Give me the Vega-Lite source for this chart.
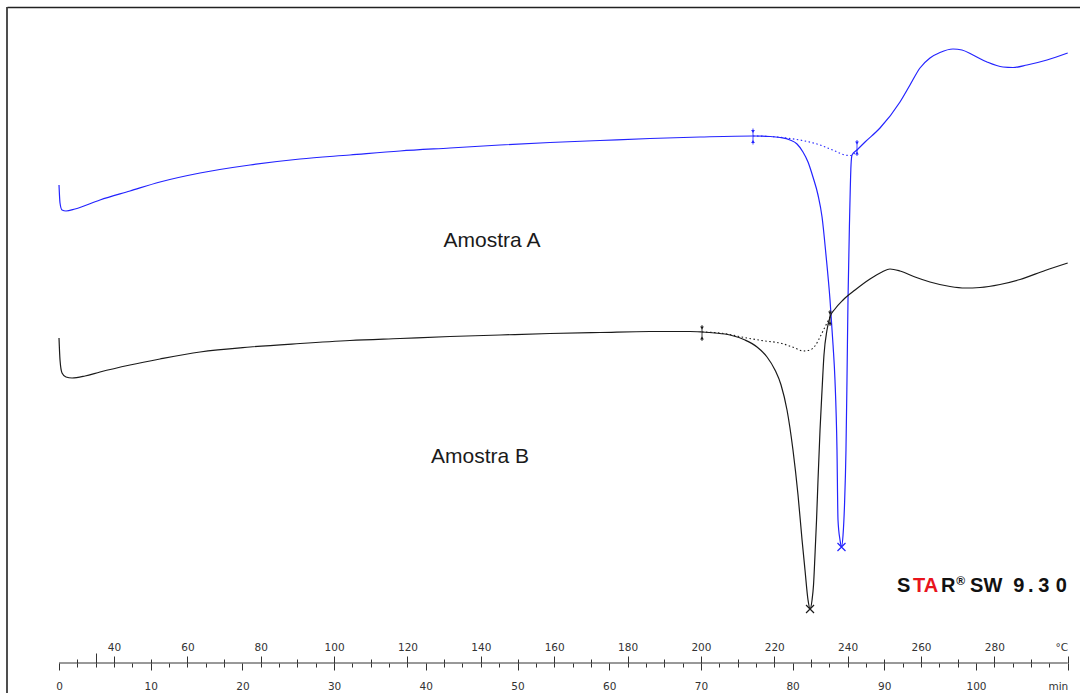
{
  "$schema": "https://vega.github.io/schema/vega-lite/v6.json",
  "width": 1073,
  "height": 686,
  "autosize": {"type": "none"},
  "padding": {"left": 7, "top": 7, "right": 0, "bottom": 0},
  "background": "white",
  "config": {"view": {"stroke": null}},
  "data": {"values": [{}]},
  "datasets": {
    "curves": [
      {"sample": "A", "t": 0, "hf": 4.30}, {"sample": "A", "t": 0.11, "hf": 3.94}, {"sample": "A", "t": 0.33, "hf": 3.80}, {"sample": "A", "t": 0.76, "hf": 3.78}, {"sample": "A", "t": 1.75, "hf": 3.82}, {"sample": "A", "t": 4.47, "hf": 4.00}, {"sample": "A", "t": 7.74, "hf": 4.18}, {"sample": "A", "t": 11.01, "hf": 4.36}, {"sample": "A", "t": 15.38, "hf": 4.54}, {"sample": "A", "t": 20.83, "hf": 4.70}, {"sample": "A", "t": 26.28, "hf": 4.82}, {"sample": "A", "t": 31.73, "hf": 4.90}, {"sample": "A", "t": 37.19, "hf": 4.98}, {"sample": "A", "t": 42.64, "hf": 5.04}, {"sample": "A", "t": 48.09, "hf": 5.10}, {"sample": "A", "t": 53.54, "hf": 5.15}, {"sample": "A", "t": 59.00, "hf": 5.19}, {"sample": "A", "t": 64.45, "hf": 5.23}, {"sample": "A", "t": 69.90, "hf": 5.26}, {"sample": "A", "t": 75.68, "hf": 5.28}, {"sample": "A", "t": 77.54, "hf": 5.27}, {"sample": "A", "t": 78.63, "hf": 5.25}, {"sample": "A", "t": 79.72, "hf": 5.20}, {"sample": "A", "t": 80.48, "hf": 5.12}, {"sample": "A", "t": 81.13, "hf": 4.96}, {"sample": "A", "t": 81.68, "hf": 4.76}, {"sample": "A", "t": 82.22, "hf": 4.46}, {"sample": "A", "t": 82.77, "hf": 4.10}, {"sample": "A", "t": 83.21, "hf": 3.66}, {"sample": "A", "t": 83.64, "hf": 2.90}, {"sample": "A", "t": 84.08, "hf": 2.00}, {"sample": "A", "t": 84.41, "hf": 1.10}, {"sample": "A", "t": 84.62, "hf": 0.40}, {"sample": "A", "t": 84.84, "hf": -1.00}, {"sample": "A", "t": 84.95, "hf": -2.40}, {"sample": "A", "t": 85.17, "hf": -2.80}, {"sample": "A", "t": 85.33, "hf": -2.94}, {"sample": "A", "t": 85.50, "hf": -2.70}, {"sample": "A", "t": 85.66, "hf": -2.10}, {"sample": "A", "t": 85.82, "hf": -1.00}, {"sample": "A", "t": 85.93, "hf": 0.40}, {"sample": "A", "t": 86.04, "hf": 2.00}, {"sample": "A", "t": 86.21, "hf": 3.60}, {"sample": "A", "t": 86.37, "hf": 4.70}, {"sample": "A", "t": 86.48, "hf": 4.90}, {"sample": "A", "t": 87.02, "hf": 5.00}, {"sample": "A", "t": 87.90, "hf": 5.16}, {"sample": "A", "t": 89.53, "hf": 5.44}, {"sample": "A", "t": 91.71, "hf": 5.96}, {"sample": "A", "t": 92.80, "hf": 6.30}, {"sample": "A", "t": 93.89, "hf": 6.64}, {"sample": "A", "t": 94.98, "hf": 6.84}, {"sample": "A", "t": 96.07, "hf": 6.95}, {"sample": "A", "t": 97.49, "hf": 7.02}, {"sample": "A", "t": 98.47, "hf": 7.00}, {"sample": "A", "t": 99.67, "hf": 6.90}, {"sample": "A", "t": 101.20, "hf": 6.76}, {"sample": "A", "t": 102.94, "hf": 6.66}, {"sample": "A", "t": 104.04, "hf": 6.65}, {"sample": "A", "t": 105.56, "hf": 6.70}, {"sample": "A", "t": 107.74, "hf": 6.80}, {"sample": "A", "t": 110.0, "hf": 6.94},
      {"sample": "B", "t": 0, "hf": 1.24}, {"sample": "B", "t": 0.11, "hf": 0.80}, {"sample": "B", "t": 0.33, "hf": 0.54}, {"sample": "B", "t": 0.76, "hf": 0.46}, {"sample": "B", "t": 1.42, "hf": 0.44}, {"sample": "B", "t": 2.84, "hf": 0.48}, {"sample": "B", "t": 4.47, "hf": 0.56}, {"sample": "B", "t": 7.74, "hf": 0.70}, {"sample": "B", "t": 11.01, "hf": 0.82}, {"sample": "B", "t": 15.38, "hf": 0.96}, {"sample": "B", "t": 20.83, "hf": 1.06}, {"sample": "B", "t": 26.28, "hf": 1.13}, {"sample": "B", "t": 31.73, "hf": 1.19}, {"sample": "B", "t": 37.19, "hf": 1.23}, {"sample": "B", "t": 42.64, "hf": 1.27}, {"sample": "B", "t": 48.09, "hf": 1.30}, {"sample": "B", "t": 53.54, "hf": 1.33}, {"sample": "B", "t": 59.00, "hf": 1.35}, {"sample": "B", "t": 64.45, "hf": 1.37}, {"sample": "B", "t": 68.81, "hf": 1.37}, {"sample": "B", "t": 70.12, "hf": 1.36}, {"sample": "B", "t": 71.54, "hf": 1.34}, {"sample": "B", "t": 73.17, "hf": 1.30}, {"sample": "B", "t": 74.81, "hf": 1.20}, {"sample": "B", "t": 76.12, "hf": 1.06}, {"sample": "B", "t": 77.21, "hf": 0.86}, {"sample": "B", "t": 78.08, "hf": 0.60}, {"sample": "B", "t": 78.74, "hf": 0.30}, {"sample": "B", "t": 79.39, "hf": -0.20}, {"sample": "B", "t": 80.04, "hf": -1.00}, {"sample": "B", "t": 80.59, "hf": -1.90}, {"sample": "B", "t": 81.03, "hf": -2.80}, {"sample": "B", "t": 81.35, "hf": -3.40}, {"sample": "B", "t": 81.68, "hf": -4.00}, {"sample": "B", "t": 81.90, "hf": -4.18}, {"sample": "B", "t": 82.12, "hf": -4.00}, {"sample": "B", "t": 82.28, "hf": -3.70}, {"sample": "B", "t": 82.44, "hf": -3.10}, {"sample": "B", "t": 82.61, "hf": -2.40}, {"sample": "B", "t": 82.77, "hf": -1.60}, {"sample": "B", "t": 82.99, "hf": -0.60}, {"sample": "B", "t": 83.21, "hf": 0.20}, {"sample": "B", "t": 83.42, "hf": 0.90}, {"sample": "B", "t": 83.75, "hf": 1.40}, {"sample": "B", "t": 84.08, "hf": 1.66}, {"sample": "B", "t": 84.62, "hf": 1.82}, {"sample": "B", "t": 85.50, "hf": 2.00}, {"sample": "B", "t": 86.81, "hf": 2.20}, {"sample": "B", "t": 88.44, "hf": 2.42}, {"sample": "B", "t": 89.75, "hf": 2.56}, {"sample": "B", "t": 90.62, "hf": 2.62}, {"sample": "B", "t": 91.71, "hf": 2.58}, {"sample": "B", "t": 93.35, "hf": 2.46}, {"sample": "B", "t": 94.98, "hf": 2.36}, {"sample": "B", "t": 97.17, "hf": 2.27}, {"sample": "B", "t": 98.80, "hf": 2.24}, {"sample": "B", "t": 100.44, "hf": 2.25}, {"sample": "B", "t": 102.62, "hf": 2.31}, {"sample": "B", "t": 104.80, "hf": 2.41}, {"sample": "B", "t": 107.53, "hf": 2.59}, {"sample": "B", "t": 110.0, "hf": 2.74}
    ],
    "baselines": [
      {"sample": "A", "t": 75.68, "hf": 5.28}, {"sample": "A", "t": 77.54, "hf": 5.27}, {"sample": "A", "t": 79.72, "hf": 5.23}, {"sample": "A", "t": 81.35, "hf": 5.18}, {"sample": "A", "t": 82.99, "hf": 5.10}, {"sample": "A", "t": 84.62, "hf": 4.98}, {"sample": "A", "t": 85.71, "hf": 4.90}, {"sample": "A", "t": 86.37, "hf": 4.89}, {"sample": "A", "t": 87.02, "hf": 5.00},
      {"sample": "B", "t": 70.12, "hf": 1.36}, {"sample": "B", "t": 72.08, "hf": 1.34}, {"sample": "B", "t": 75.03, "hf": 1.24}, {"sample": "B", "t": 76.99, "hf": 1.18}, {"sample": "B", "t": 78.63, "hf": 1.14}, {"sample": "B", "t": 80.26, "hf": 1.04}, {"sample": "B", "t": 81.13, "hf": 0.98}, {"sample": "B", "t": 81.90, "hf": 1.00}, {"sample": "B", "t": 82.44, "hf": 1.08}, {"sample": "B", "t": 82.99, "hf": 1.26}, {"sample": "B", "t": 83.53, "hf": 1.46}, {"sample": "B", "t": 84.08, "hf": 1.66}
    ],
    "limits": [
      {"sample": "A", "t": 75.68, "hf": 5.27}, {"sample": "A", "t": 87.02, "hf": 5.04},
      {"sample": "B", "t": 70.12, "hf": 1.34}, {"sample": "B", "t": 84.08, "hf": 1.64}
    ],
    "peaks": [
      {"sample": "A", "t": 85.33, "hf": -2.94},
      {"sample": "B", "t": 81.90, "hf": -4.18}
    ],
    "labels": [
      {"text": "Amostra A", "t": 47.22, "hf": 3.18},
      {"text": "Amostra B", "t": 45.91, "hf": -1.14}
    ]
  },
  "resolve": {"axis": {"x": "independent"}},
  "layer": [
    {
      "mark": {"type": "rule", "color": "#222222", "strokeWidth": 1.6},
      "encoding": {
        "x": {"datum": -5.671, "type": "quantitative", "scale": {"domain": [-5.671, 111.34], "nice": false, "zero": false}, "axis": null},
        "y": {"datum": -5.86, "type": "quantitative", "scale": {"domain": [-5.86, 7.86], "nice": false, "zero": false}, "axis": null},
        "y2": {"datum": 7.86}
      }
    },
    {
      "data": {"name": "curves"},
      "mark": {"type": "line", "strokeWidth": 1.2, "interpolate": "monotone"},
      "encoding": {
        "x": {"field": "t", "type": "quantitative", "scale": {"domain": [-5.671, 111.34], "nice": false, "zero": false},
              "axis": {"orient": "top", "offset": 0, "domain": true, "domainColor": "#222222", "domainWidth": 1.6, "ticks": false, "labels": false, "grid": false, "title": null}},
        "y": {"field": "hf", "type": "quantitative", "scale": {"domain": [-5.86, 7.86], "nice": false, "zero": false}, "axis": null},
        "color": {"field": "sample", "type": "nominal", "scale": {"domain": ["A", "B"], "range": ["#2323ff", "#1a1a1a"]}, "legend": null}
      }
    },
    {
      "data": {"name": "baselines"},
      "mark": {"type": "line", "strokeWidth": 1.1, "strokeDash": [1.5, 2.5], "interpolate": "monotone"},
      "encoding": {
        "x": {"field": "t", "type": "quantitative", "scale": {"domain": [-5.671, 111.34], "nice": false, "zero": false},
              "axis": {"orient": "bottom", "offset": -30, "domain": false, "grid": false, "title": null,
                       "values": [0,2,4,6,8,10,12,14,16,18,20,22,24,26,28,30,32,34,36,38,40,42,44,46,48,50,52,54,56,58,60,62,64,66,68,70,72,74,76,78,80,82,84,86,88,90,92,94,96,98,100,102,104,106,108,110],
                       "tickSize": {"condition": {"test": "datum.value % 10 === 0", "value": 7}, "value": 4},
                       "tickColor": "#333333", "tickWidth": 1,
                       "labelExpr": "datum.value === 110 ? 'min' : (datum.value % 10 === 0 ? format(datum.value, 'd') : '')",
                       "labelAlign": {"condition": {"test": "datum.value === 110", "value": "right"}, "value": "center"},
                       "labelPadding": 11, "labelFont": "DejaVu Sans", "labelFontSize": 10.5, "labelColor": "#333333",
                       "labelOverlap": false, "labelFlush": false, "labelBound": false}},
        "y": {"field": "hf", "type": "quantitative", "scale": {"domain": [-5.86, 7.86], "nice": false, "zero": false}, "axis": null},
        "color": {"field": "sample", "type": "nominal", "scale": {"domain": ["A", "B"], "range": ["#2323ff", "#1a1a1a"]}, "legend": null}
      }
    },
    {
      "mark": {"type": "rule", "color": "#333333", "strokeWidth": 1},
      "encoding": {
        "x": {"datum": 0, "type": "quantitative", "scale": {"domain": [-5.671, 111.34], "nice": false, "zero": false},
              "axis": {"orient": "top", "offset": -656, "domain": false, "grid": false, "title": null,
                       "values": [2,4,6,10,14,18,22,26,30,34,38,42,46,50,54,58,62,66,70,74,78,82,86,90,94,98,102,106,110],
                       "tickSize": {"condition": [{"test": "datum.value === 4", "value": 10}, {"test": "(25 + 2.5 * datum.value) % 20 === 0", "value": 7}], "value": 4},
                       "tickColor": "#333333", "tickWidth": 1,
                       "labelExpr": "(25 + 2.5 * datum.value) === 300 ? '°C' : ((25 + 2.5 * datum.value) % 20 === 0 ? format(25 + 2.5 * datum.value, 'd') : '')",
                       "labelAlign": {"condition": {"test": "datum.value === 110", "value": "right"}, "value": "center"},
                       "labelPadding": 4, "labelFont": "DejaVu Sans", "labelFontSize": 10.5, "labelColor": "#333333",
                       "labelOverlap": false, "labelFlush": false, "labelBound": false}},
        "x2": {"datum": 110},
        "y": {"datum": -5.26, "type": "quantitative", "scale": {"domain": [-5.86, 7.86], "nice": false, "zero": false}, "axis": null}
      }
    },
    {
      "data": {"name": "limits"},
      "mark": {"type": "tick", "orient": "vertical", "size": 16, "thickness": 1.2},
      "encoding": {
        "x": {"field": "t", "type": "quantitative", "scale": {"domain": [-5.671, 111.34], "nice": false, "zero": false}, "axis": null},
        "y": {"field": "hf", "type": "quantitative", "scale": {"domain": [-5.86, 7.86], "nice": false, "zero": false}, "axis": null},
        "color": {"field": "sample", "type": "nominal", "scale": {"domain": ["A", "B"], "range": ["#2323ff", "#1a1a1a"]}, "legend": null}
      }
    },
    {
      "data": {"name": "limits"},
      "mark": {"type": "point", "shape": "triangle-down", "size": 14, "filled": true, "yOffset": -5, "opacity": 1},
      "encoding": {
        "x": {"field": "t", "type": "quantitative", "scale": {"domain": [-5.671, 111.34], "nice": false, "zero": false}, "axis": null},
        "y": {"field": "hf", "type": "quantitative", "scale": {"domain": [-5.86, 7.86], "nice": false, "zero": false}, "axis": null},
        "color": {"field": "sample", "type": "nominal", "scale": {"domain": ["A", "B"], "range": ["#2323ff", "#1a1a1a"]}, "legend": null}
      }
    },
    {
      "data": {"name": "limits"},
      "mark": {"type": "point", "shape": "triangle-up", "size": 14, "filled": true, "yOffset": 5, "opacity": 1},
      "encoding": {
        "x": {"field": "t", "type": "quantitative", "scale": {"domain": [-5.671, 111.34], "nice": false, "zero": false}, "axis": null},
        "y": {"field": "hf", "type": "quantitative", "scale": {"domain": [-5.86, 7.86], "nice": false, "zero": false}, "axis": null},
        "color": {"field": "sample", "type": "nominal", "scale": {"domain": ["A", "B"], "range": ["#2323ff", "#1a1a1a"]}, "legend": null}
      }
    },
    {
      "data": {"name": "peaks"},
      "mark": {"type": "point", "shape": "M-1,-1L1,1M-1,1L1,-1", "size": 64, "filled": false, "strokeWidth": 1.2, "opacity": 1},
      "encoding": {
        "x": {"field": "t", "type": "quantitative", "scale": {"domain": [-5.671, 111.34], "nice": false, "zero": false}, "axis": null},
        "y": {"field": "hf", "type": "quantitative", "scale": {"domain": [-5.86, 7.86], "nice": false, "zero": false}, "axis": null},
        "color": {"field": "sample", "type": "nominal", "scale": {"domain": ["A", "B"], "range": ["#2323ff", "#1a1a1a"]}, "legend": null}
      }
    },
    {
      "data": {"name": "labels"},
      "mark": {"type": "text", "font": "Liberation Sans", "fontSize": 21, "color": "#1a1a1a", "align": "center", "baseline": "middle"},
      "encoding": {
        "x": {"field": "t", "type": "quantitative", "scale": {"domain": [-5.671, 111.34], "nice": false, "zero": false}, "axis": null},
        "y": {"field": "hf", "type": "quantitative", "scale": {"domain": [-5.86, 7.86], "nice": false, "zero": false}, "axis": null},
        "text": {"field": "text", "type": "nominal"}
      }
    },
    {
      "mark": {"type": "text", "text": "S", "font": "Liberation Sans", "fontWeight": "bold", "fontSize": 20, "align": "center", "baseline": "alphabetic", "dx": -164, "color": "#111111"},
      "encoding": {"x": {"datum": 110, "type": "quantitative", "scale": {"domain": [-5.671, 111.34], "nice": false, "zero": false}, "axis": null},
                   "y": {"datum": -3.84, "type": "quantitative", "scale": {"domain": [-5.86, 7.86], "nice": false, "zero": false}, "axis": null}}
    },
    {
      "mark": {"type": "text", "text": "TA", "font": "Liberation Sans", "fontWeight": "bold", "fontSize": 20, "align": "center", "baseline": "alphabetic", "dx": -142, "color": "#e8141c"},
      "encoding": {"x": {"datum": 110, "type": "quantitative", "scale": {"domain": [-5.671, 111.34], "nice": false, "zero": false}, "axis": null},
                   "y": {"datum": -3.84, "type": "quantitative", "scale": {"domain": [-5.86, 7.86], "nice": false, "zero": false}, "axis": null}}
    },
    {
      "mark": {"type": "text", "text": "R", "font": "Liberation Sans", "fontWeight": "bold", "fontSize": 20, "align": "center", "baseline": "alphabetic", "dx": -119.5, "color": "#111111"},
      "encoding": {"x": {"datum": 110, "type": "quantitative", "scale": {"domain": [-5.671, 111.34], "nice": false, "zero": false}, "axis": null},
                   "y": {"datum": -3.84, "type": "quantitative", "scale": {"domain": [-5.86, 7.86], "nice": false, "zero": false}, "axis": null}}
    },
    {
      "mark": {"type": "text", "text": "®", "font": "Liberation Sans", "fontWeight": "bold", "fontSize": 12, "align": "center", "baseline": "alphabetic", "dx": -107, "dy": -7, "color": "#111111"},
      "encoding": {"x": {"datum": 110, "type": "quantitative", "scale": {"domain": [-5.671, 111.34], "nice": false, "zero": false}, "axis": null},
                   "y": {"datum": -3.84, "type": "quantitative", "scale": {"domain": [-5.86, 7.86], "nice": false, "zero": false}, "axis": null}}
    },
    {
      "mark": {"type": "text", "text": "SW", "font": "Liberation Sans", "fontWeight": "bold", "fontSize": 20, "align": "center", "baseline": "alphabetic", "dx": -81.5, "color": "#111111"},
      "encoding": {"x": {"datum": 110, "type": "quantitative", "scale": {"domain": [-5.671, 111.34], "nice": false, "zero": false}, "axis": null},
                   "y": {"datum": -3.84, "type": "quantitative", "scale": {"domain": [-5.86, 7.86], "nice": false, "zero": false}, "axis": null}}
    },
    {
      "mark": {"type": "text", "text": "9", "font": "Liberation Sans", "fontWeight": "bold", "fontSize": 20, "align": "center", "baseline": "alphabetic", "dx": -49, "color": "#111111"},
      "encoding": {"x": {"datum": 110, "type": "quantitative", "scale": {"domain": [-5.671, 111.34], "nice": false, "zero": false}, "axis": null},
                   "y": {"datum": -3.84, "type": "quantitative", "scale": {"domain": [-5.86, 7.86], "nice": false, "zero": false}, "axis": null}}
    },
    {
      "mark": {"type": "text", "text": ".", "font": "Liberation Sans", "fontWeight": "bold", "fontSize": 20, "align": "center", "baseline": "alphabetic", "dx": -37, "color": "#111111"},
      "encoding": {"x": {"datum": 110, "type": "quantitative", "scale": {"domain": [-5.671, 111.34], "nice": false, "zero": false}, "axis": null},
                   "y": {"datum": -3.84, "type": "quantitative", "scale": {"domain": [-5.86, 7.86], "nice": false, "zero": false}, "axis": null}}
    },
    {
      "mark": {"type": "text", "text": "3", "font": "Liberation Sans", "fontWeight": "bold", "fontSize": 20, "align": "center", "baseline": "alphabetic", "dx": -24, "color": "#111111"},
      "encoding": {"x": {"datum": 110, "type": "quantitative", "scale": {"domain": [-5.671, 111.34], "nice": false, "zero": false}, "axis": null},
                   "y": {"datum": -3.84, "type": "quantitative", "scale": {"domain": [-5.86, 7.86], "nice": false, "zero": false}, "axis": null}}
    },
    {
      "mark": {"type": "text", "text": "0", "font": "Liberation Sans", "fontWeight": "bold", "fontSize": 20, "align": "center", "baseline": "alphabetic", "dx": -6.5, "color": "#111111"},
      "encoding": {"x": {"datum": 110, "type": "quantitative", "scale": {"domain": [-5.671, 111.34], "nice": false, "zero": false}, "axis": null},
                   "y": {"datum": -3.84, "type": "quantitative", "scale": {"domain": [-5.86, 7.86], "nice": false, "zero": false}, "axis": null}}
    }
  ]
}
